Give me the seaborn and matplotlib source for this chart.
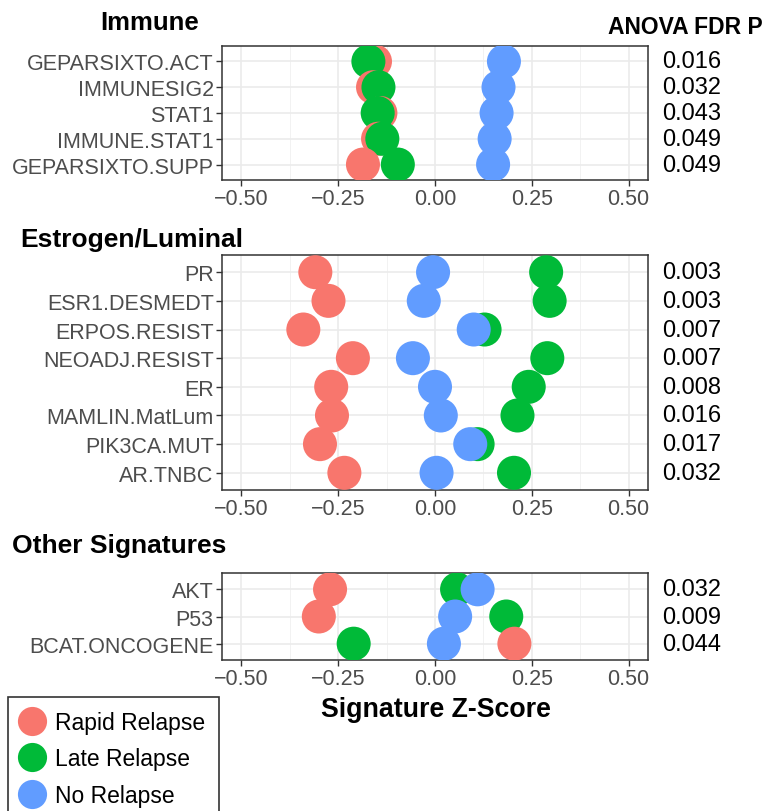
import matplotlib
matplotlib.use("Agg")
import matplotlib.pyplot as plt
from matplotlib.lines import Line2D
from matplotlib.ticker import MultipleLocator
from matplotlib.transforms import blended_transform_factory
import pandas as pd
import seaborn as sns

groups = ["Rapid Relapse", "Late Relapse", "No Relapse"]
colors = ["#F8766D", "#00BA38", "#619CFF"]

immune_sigs = ["GEPARSIXTO.ACT", "IMMUNESIG2", "STAT1", "IMMUNE.STAT1", "GEPARSIXTO.SUPP"]
immune_rapid = [-0.155, -0.160, -0.141, -0.147, -0.186]
immune_late = [-0.172, -0.146, -0.148, -0.136, -0.096]
immune_none = [0.178, 0.164, 0.159, 0.154, 0.150]
immune_p = ["0.016", "0.032", "0.043", "0.049", "0.049"]

estro_sigs = ["PR", "ESR1.DESMEDT", "ERPOS.RESIST", "NEOADJ.RESIST", "ER",
              "MAMLIN.MatLum", "PIK3CA.MUT", "AR.TNBC"]
estro_rapid = [-0.309, -0.275, -0.340, -0.212, -0.268, -0.266, -0.297, -0.234]
estro_late = [0.287, 0.296, 0.128, 0.290, 0.242, 0.213, 0.110, 0.204]
estro_none = [-0.005, -0.029, 0.100, -0.057, 0.000, 0.015, 0.091, 0.004]
estro_p = ["0.003", "0.003", "0.007", "0.007", "0.008", "0.016", "0.017", "0.032"]

other_sigs = ["AKT", "P53", "BCAT.ONCOGENE"]
other_rapid = [-0.271, -0.300, 0.205]
other_late = [0.057, 0.184, -0.210]
other_none = [0.110, 0.052, 0.023]
other_p = ["0.032", "0.009", "0.044"]

x_ticks = [-0.50, -0.25, 0.00, 0.25, 0.50]


def long_table(sigs, rapid, late, none):
    rows = []
    for g, vals in zip(groups, [rapid, late, none]):
        for s, v in zip(sigs, vals):
            rows.append([s, g, v])
    return pd.DataFrame(rows, columns=["Signature", "Group", "Z"])


sns.set_theme(style="whitegrid")
plt.rcParams["font.family"] = ["Liberation Sans", "DejaVu Sans"]
plt.rcParams["text.color"] = "black"

W, H = 766, 812
fig = plt.figure(figsize=(W / 100, H / 100), dpi=100)

panels = [
    (immune_sigs, immune_rapid, immune_late, immune_none, immune_p, 47, 181),
    (estro_sigs, estro_rapid, estro_late, estro_none, estro_p, 256, 491),
    (other_sigs, other_rapid, other_late, other_none, other_p, 574, 661),
]

left, right = 222, 648
for sigs, rapid, late, none, pvals, top, bottom in panels:
    ax = fig.add_axes([left / W, 1 - bottom / H, (right - left) / W, (bottom - top) / H])
    df = long_table(sigs, rapid, late, none)
    sns.stripplot(data=df, x="Z", y="Signature", hue="Group", order=sigs,
                  hue_order=groups, palette=colors, jitter=False, dodge=False,
                  size=24.5, linewidth=0, legend=False, ax=ax, zorder=3)
    n = len(sigs)
    ax.set_xlim(-0.55, 0.55)
    ax.set_ylim(n - 1 + 0.6, -0.6)
    ax.set_xticks(x_ticks)
    ax.set_xticklabels([f"{t:.2f}".replace("-", "\u2212") for t in x_ticks])
    ax.xaxis.set_minor_locator(MultipleLocator(0.125))
    ax.grid(True, which="major", axis="both", color="#EBEBEB", lw=1.2, zorder=0)
    ax.grid(True, which="minor", axis="x", color="#F2F2F2", lw=0.7, zorder=0)
    ax.set_axisbelow(True)
    ax.set_xlabel("")
    ax.set_ylabel("")
    for sp in ax.spines.values():
        sp.set_color("#333333")
        sp.set_linewidth(1.1)
    ax.tick_params(axis="both", which="major", length=4, width=1, color="#333333",
                   labelsize=15.5, labelcolor="#4D4D4D", pad=2, left=True, bottom=True)
    ax.tick_params(axis="x", which="minor", length=0)
    trans = blended_transform_factory(ax.transAxes, ax.transData)
    for i, p in enumerate(pvals):
        ax.text((662 - left) / (right - left), i, p, transform=trans,
                ha="left", va="center", fontsize=17, color="black")

fig.text(100 / W, 1 - 23 / H, "Immune", fontsize=18.5, fontweight="bold", va="center", ha="left")
fig.text(608 / W, 1 - 28 / H, "ANOVA FDR P", fontsize=16.5, fontweight="bold", va="center", ha="left")
fig.text(20 / W, 1 - 240 / H, "Estrogen/Luminal", fontsize=19, fontweight="bold", va="center", ha="left")
fig.text(12 / W, 1 - 546 / H, "Other Signatures", fontsize=19, fontweight="bold", va="center", ha="left")
fig.text(436 / W, 1 - 710 / H, "Signature Z-Score", fontsize=19.3, fontweight="bold", va="center", ha="center")

handles = [Line2D([0], [0], marker="o", color="w", markerfacecolor=c, markeredgewidth=0,
                  markersize=21) for c in colors]
leg = fig.legend(handles, groups, loc="upper left", bbox_to_anchor=(8 / W, 1 - 698 / H),
                 frameon=True, fancybox=False, edgecolor="black", fontsize=16.5,
                 handlelength=0.9, handletextpad=0.55, labelspacing=0.6, borderpad=0.6,
                 borderaxespad=0)
leg.get_frame().set_linewidth(1.2)

fig.savefig("out.png", dpi=100)
